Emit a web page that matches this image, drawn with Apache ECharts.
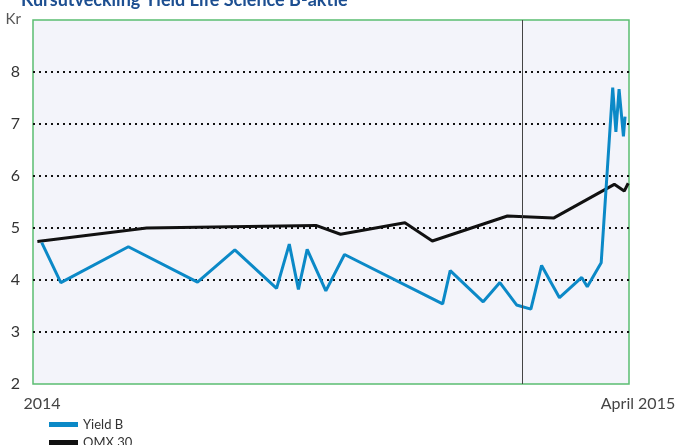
<!DOCTYPE html>
<html>
<head>
<meta charset="utf-8">
<script src="https://cdn.jsdelivr.net/npm/echarts@6/dist/echarts.min.js"></script>
<style>
  html, body { margin: 0; padding: 0; background: #fff; }
  #chart { width: 682px; height: 445px; }
</style>
</head>
<body>
<div id="chart"></div>
<script>
// x = månader sedan jan 2014 (0 = 2014, 15 = april 2015)
const yieldX = [0.22, 0.70, 2.40, 4.14, 5.08, 6.13, 6.45, 6.68, 6.90, 7.37, 7.84, 10.31, 10.50, 11.33, 11.75, 12.17, 12.53, 12.80, 13.25, 13.81, 13.95, 14.30, 14.59, 14.67, 14.75, 14.86, 14.90];
const yieldY = [4.72, 3.95, 4.64, 3.96, 4.58, 3.84, 4.69, 3.82, 4.59, 3.79, 4.49, 3.54, 4.18, 3.58, 3.95, 3.52, 3.44, 4.28, 3.66, 4.05, 3.87, 4.33, 7.70, 6.85, 7.67, 6.76, 7.14];
const omxX = [0.11, 2.86, 7.12, 7.74, 9.36, 10.05, 11.94, 13.10, 14.63, 14.88, 14.98];
const omxY = [4.74, 5.00, 5.05, 4.88, 5.10, 4.75, 5.23, 5.19, 5.84, 5.71, 5.86];
const yearMark = 12.31;
const xLabels = { 0: '2014', 15: 'April 2015' };

const font = 'Lato, "Open Sans", sans-serif';
const chart = echarts.init(document.getElementById('chart'));

chart.setOption({
  animation: false,
  textStyle: { fontFamily: font },
  title: {
    text: 'Kursutveckling Yield Life Science B-aktie',
    left: 16,
    top: -14,
    textStyle: { color: '#1d4f91', fontSize: 18, fontWeight: 'bold', fontFamily: font }
  },
  grid: {
    left: 33,
    right: 53,
    top: 20,
    bottom: 61,
    show: true,
    backgroundColor: '#f3f4fa',
    borderColor: '#5bbd72',
    borderWidth: 1.5
  },
  legend: {
    orient: 'vertical',
    left: 44,
    top: 413,
    height: 60,
    itemWidth: 29,
    itemHeight: 5,
    itemGap: 5,
    icon: 'rect',
    textStyle: { fontSize: 13, color: '#333', fontFamily: font },
    data: ['Yield B', 'OMX 30']
  },
  xAxis: {
    type: 'value',
    min: 0,
    max: 15,
    interval: 15,
    axisLine: { show: false },
    axisTick: { show: false },
    splitLine: { show: false },
    axisLabel: {
      margin: 12,
      fontSize: 16,
      color: '#444',
      padding: [0, 0, 0, 18],
      formatter: v => xLabels[v] || ''
    }
  },
  yAxis: {
    type: 'value',
    min: 2,
    max: 9,
    interval: 1,
    name: 'Kr',
    nameLocation: 'end',
    nameGap: 0,
    nameTextStyle: { fontSize: 15, color: '#555', align: 'right', verticalAlign: 'bottom', padding: [0, 12, -7, 0] },
    axisLine: { show: false },
    axisTick: { show: false },
    axisLabel: {
      margin: 13,
      fontSize: 16,
      color: '#333',
      formatter: v => (v === 9 ? '' : v)
    },
    splitLine: {
      showMinLine: false,
      showMaxLine: false,
      lineStyle: { color: '#111', width: 2, type: [2, 4] }
    }
  },
  series: [
    {
      name: 'Yield B',
      type: 'line',
      data: yieldX.map((x, i) => [x, yieldY[i]]),
      symbol: 'none',
      lineStyle: { color: '#0b89c7', width: 3 },
      itemStyle: { color: '#0b89c7' },
      z: 3
    },
    {
      name: 'OMX 30',
      type: 'line',
      data: omxX.map((x, i) => [x, omxY[i]]),
      symbol: 'none',
      lineStyle: { color: '#111', width: 3 },
      itemStyle: { color: '#111' },
      z: 2,
      markLine: {
        silent: true,
        symbol: 'none',
        label: { show: false },
        lineStyle: { color: '#444', width: 1, type: 'solid' },
        data: [{ xAxis: yearMark }]
      }
    }
  ]
});
</script>
</body>
</html>
